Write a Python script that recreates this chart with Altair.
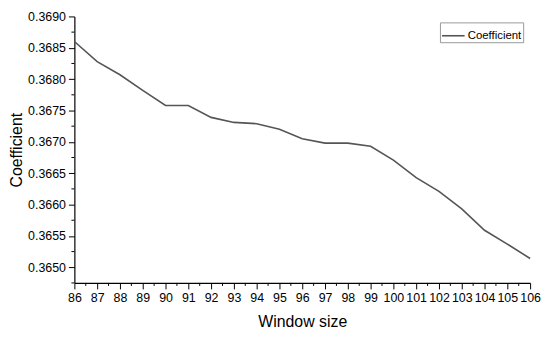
import altair as alt
import pandas as pd

window = list(range(86, 107))
coef = [0.36860, 0.36828, 0.36807, 0.36782, 0.36758, 0.36758, 0.36739, 0.36731,
        0.36729, 0.36720, 0.36705, 0.36698, 0.36698, 0.36693, 0.36671, 0.36643,
        0.36621, 0.36593, 0.36559, 0.36537, 0.36514]
series = ["Coefficient"] * len(window)
x_major = list(range(86, 107))
x_minor = [v + 0.5 for v in range(86, 106)]
y_major = [0.3650, 0.3655, 0.3660, 0.3665, 0.3670, 0.3675, 0.3680, 0.3685, 0.3690]
y_minor = [0.36475 + 0.0005 * i for i in range(9)]

W, H = 460, 269
df = pd.DataFrame({"w": window, "c": coef, "s": series})
xs = alt.Scale(domain=[86, 106], nice=False, zero=False)
ys = alt.Scale(domain=[0.36475, 0.3690], nice=False, zero=False)
ax_x = alt.Axis(values=x_major, format="d", grid=False, tickSize=6, labelPadding=3,
                titlePadding=9, labelOverlap=False, labelFlush=False, title="Window size")
ax_y = alt.Axis(values=y_major, format=".4f", grid=False, tickSize=6, labelPadding=3,
                titlePadding=3, labelOverlap=False, labelFlush=False, title="Coefficient")

line = alt.Chart(df).mark_line(strokeWidth=1.6).encode(
    x=alt.X("w:Q", scale=xs, axis=ax_x),
    y=alt.Y("c:Q", scale=ys, axis=ax_y),
    color=alt.Color("s:N", scale=alt.Scale(range=["#555555"]),
                    legend=alt.Legend(title=None, orient="none", legendX=369, legendY=6,
                                      strokeColor="#999999", padding=1,
                                      symbolType="stroke", symbolSize=520,
                                      symbolStrokeWidth=1.6, labelFontSize=11.5,
                                      labelFont="Liberation Sans", labelColor="#000000",
                                      symbolOffset=0, labelOffset=2, cornerRadius=0,
                                      rowPadding=0)),
)

xminor = alt.Chart(pd.DataFrame({"v": x_minor})).mark_rule(color="#000000", strokeWidth=1).encode(
    x=alt.X("v:Q", scale=xs, axis=ax_x), y=alt.value(H), y2=alt.value(H + 3))
yminor = alt.Chart(pd.DataFrame({"v": y_minor})).mark_rule(color="#000000", strokeWidth=1).encode(
    y=alt.Y("v:Q", scale=ys, axis=ax_y), x=alt.value(0), x2=alt.value(-3))

chart = alt.layer(line, xminor, yminor).properties(
    width=W, height=H,
    autosize=alt.AutoSizeParams(type="none"),
    padding={"left": 67, "top": 7, "right": 12, "bottom": 48},
).configure_view(stroke=None).configure_axis(
    domainColor="#000000", tickColor="#000000", domainWidth=1.2, tickWidth=1,
    labelFont="Liberation Sans", labelFontSize=12.5, labelColor="#000000",
    titleFont="Liberation Sans", titleFontSize=16, titleFontWeight="normal", titleColor="#000000",
)

chart.save("out.html", embed_options={"renderer": "svg", "actions": False})
